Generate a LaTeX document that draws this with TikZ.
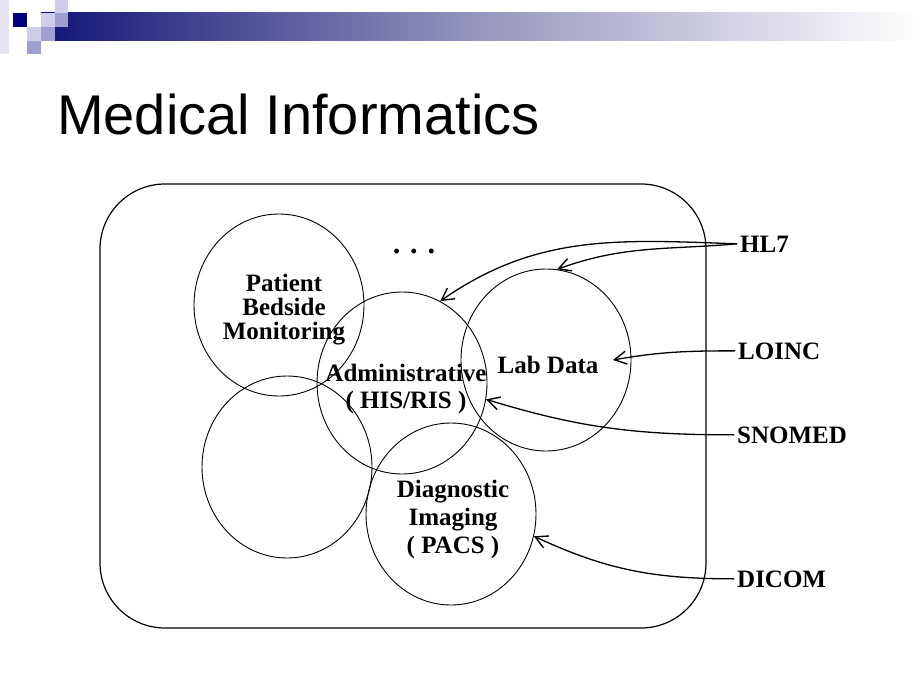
\documentclass[tikz,border=0pt]{standalone}
\usepackage{fontspec}
\setmainfont{Liberation Serif}
\newfontfamily\titlefont{Liberation Sans}
\usetikzlibrary{shapes.geometric,arrows.meta}

\definecolor{barnavy}{RGB}{20,20,120}
\definecolor{barmid}{RGB}{150,150,190}
\definecolor{squarenavy}{RGB}{0,0,128}
\definecolor{lavlight}{RGB}{206,206,234}
\definecolor{lavpale}{RGB}{232,228,246}
\definecolor{lavmid}{RGB}{160,160,208}

\tikzset{
  sysellipse/.style={draw,ellipse,line width=0.9pt,minimum width=170pt,minimum height=182pt,inner sep=0pt},
  systext/.style={font=\bfseries\fontsize{25}{#1}\selectfont,align=center,inner sep=0pt},
  stdlabel/.style={font=\bfseries\fontsize{25}{30}\selectfont,anchor=base west,inner sep=3pt},
  stdarrow/.style={line width=1.3pt,-{Straight Barb[length=12pt,width=13pt,line width=1.4pt]}},
}

\begin{document}
\begin{tikzpicture}[x=1pt,y=-1pt]
    \useasboundingbox (0,0) rectangle (920,690);

    % slide banner
    \fill[lavpale] (0,0) rectangle (9,54);
    \fill[left color=barnavy,right color=barmid] (41,13) rectangle (480,41);
    \fill[left color=barmid,right color=white] (480,13) rectangle (920,41);
    \fill[squarenavy] (13,13) rectangle (27,27);
    \fill[lavlight] (27,27) rectangle (41,41);
    \fill[lavmid] (27,41) rectangle (41,54);
    \fill[lavlight] (41,13) rectangle (55,27);
    \fill[lavmid] (41,27) rectangle (55,41);
    \fill[lavlight] (55,0) rectangle (68,13);
    \fill[lavmid] (55,13) rectangle (68,27);

    \node[font=\titlefont\fontsize{56}{60}\selectfont,anchor=base west,inner sep=0pt] (title) at (57,135) {Medical Informatics};

    \draw[line width=1.2pt,rounded corners=65pt] (100,184) rectangle (706,628);

    \node[sysellipse] (pbm) at (279,305) {};
    \node[sysellipse] (blank) at (287,467) {};
    \node[sysellipse] (adm) at (402,383) {};
    \node[sysellipse] (lab) at (546,360) {};
    \node[sysellipse] (dia) at (451,514) {};

    \node[systext=24] (pbmtext) at (284,310) {Patient\\Bedside\\Monitoring};
    \node[systext=27] (admtext) at (406,389) {Administrative\\( HIS/RIS )};
    \node[systext=28] (labtext) at (548,365) {Lab Data};
    \node[systext=28] (diatext) at (453,519) {Diagnostic\\Imaging\\( PACS )};
    \node[font=\bfseries\fontsize{30}{30}\selectfont,inner sep=0pt] (more) at (414,251) {.\hspace{10pt}.\hspace{10pt}.};

    \node[stdlabel] (hl7) at (737,252) {HL7};
    \node[stdlabel] (loinc) at (735,359) {LOINC};
    \node[stdlabel] (snomed) at (734,443) {SNOMED};
    \node[stdlabel] (dicom) at (734,587) {DICOM};

    \draw[stdarrow] (hl7.west) to[out=178,in=35] (adm.65);
    \draw[stdarrow] (hl7.west) to[out=185,in=20] (lab.83);
    \draw[stdarrow] (loinc.west) to[out=180,in=10] ([xshift=67pt]lab.center);
    \draw[stdarrow] (snomed.west) to[out=180,in=-17] (adm.-11);
    \draw[stdarrow] (dicom.west) to[out=180,in=-25] (dia.-15);
\end{tikzpicture}
\end{document}
